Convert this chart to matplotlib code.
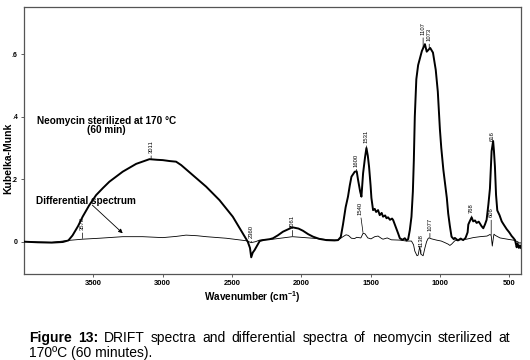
import numpy as np
import matplotlib
matplotlib.use("Agg")
import matplotlib.pyplot as plt

# ---------------- data ----------------
main_wn = [4000, 3900, 3800, 3720, 3680, 3650, 3610, 3577, 3529, 3480, 3430, 3384, 3288, 3191,
           3095, 3040, 2999, 2950, 2903, 2866, 2782, 2686, 2590, 2494, 2422, 2386, 2370, 2361,
           2350, 2337, 2300, 2277, 2228, 2204, 2170, 2132, 2064, 2020, 1988, 1950, 1915, 1870,
           1819, 1760, 1735, 1715, 1699, 1680, 1663, 1650, 1638, 1614, 1600, 1590, 1575, 1566,
           1554, 1540, 1530, 1520, 1511, 1500, 1494, 1482, 1470, 1460, 1446, 1434, 1420, 1410,
           1395, 1385, 1374, 1360, 1345, 1337, 1325, 1313, 1300, 1289, 1270, 1253, 1241, 1229,
           1217, 1205, 1195, 1188, 1181, 1170, 1157, 1145, 1130, 1108, 1095, 1070, 1050, 1030,
           1015, 1000, 990, 975, 964, 950, 940, 928, 916, 900, 892, 870, 850, 832, 815, 800,
           795, 785, 771, 760, 747, 735, 720, 711, 700, 687, 675, 663, 650, 639, 627, 616,
           610, 603, 595, 586, 570, 554, 540, 518, 500, 482, 470, 458, 450, 446, 440, 430,
           422, 415]
main_val = [0.0, -0.002, -0.003, -0.001, 0.004, 0.02, 0.05, 0.08, 0.117, 0.149, 0.172, 0.192, 0.224, 0.249,
            0.264, 0.262, 0.261, 0.258, 0.256, 0.245, 0.213, 0.176, 0.133, 0.080, 0.027, 0.0, -0.02, -0.05,
            -0.035, -0.027, 0.002, 0.005, 0.008, 0.011, 0.02, 0.032, 0.046, 0.042, 0.035, 0.024, 0.016, 0.009,
            0.005, 0.004, 0.005, 0.015, 0.055, 0.11, 0.144, 0.18, 0.208, 0.224, 0.225, 0.197, 0.16, 0.144,
            0.219, 0.27, 0.30, 0.275, 0.24, 0.18, 0.14, 0.101, 0.105, 0.095, 0.101, 0.085, 0.092, 0.08,
            0.084, 0.075, 0.078, 0.07, 0.074, 0.069, 0.055, 0.04, 0.025, 0.011, 0.006, 0.011, 0.004, 0.008,
            0.037, 0.08, 0.16, 0.26, 0.40, 0.52, 0.565, 0.585, 0.61, 0.632, 0.608, 0.62, 0.605, 0.55,
            0.48, 0.36, 0.30, 0.23, 0.19, 0.14, 0.09, 0.05, 0.016, 0.008, 0.012, 0.004, 0.01, 0.005, 0.012, 0.03,
            0.055, 0.065, 0.078, 0.065, 0.068, 0.06, 0.064, 0.058, 0.05, 0.043, 0.055, 0.07, 0.12, 0.17, 0.29, 0.322,
            0.29, 0.24, 0.15, 0.10, 0.085, 0.065, 0.055, 0.04, 0.03, 0.018, 0.012, 0.005, -0.01, -0.018, -0.005, -0.02,
            -0.012, -0.02]

diff_wn = [4000, 3800, 3680, 3578, 3457, 3288, 3144, 2999, 2900, 2831, 2750, 2686, 2541, 2397,
           2361, 2330, 2301, 2204, 2064, 1915, 1800, 1735, 1699, 1677, 1660, 1638, 1615, 1600,
           1570, 1554, 1540, 1520, 1497, 1470, 1446, 1420, 1410, 1380, 1350, 1289, 1240, 1205,
           1190, 1181, 1165, 1157, 1145, 1137, 1121, 1108, 1096, 1084, 1077, 1060, 1024, 990,
           964, 940, 928, 916, 892, 850, 807, 760, 711, 660, 639, 630, 622, 615, 610, 600,
           566, 500, 470, 440, 422, 415]
diff_val = [0.0, -0.002, 0.004, 0.008, 0.011, 0.016, 0.016, 0.013, 0.017, 0.021, 0.019, 0.016, 0.011, 0.003,
            -0.003, 0.0, 0.005, 0.008, 0.016, 0.011, 0.006, 0.005, 0.016, 0.022, 0.02, 0.011, 0.01, 0.014,
            0.012, 0.027, 0.025, 0.012, 0.009, 0.016, 0.018, 0.01, 0.008, 0.012, 0.006, 0.005, 0.002, 0.002,
            -0.01, -0.03, -0.045, -0.043, -0.015, -0.04, -0.045, -0.02, 0.0, 0.011, 0.012, 0.009, 0.005, 0.002,
            -0.003, -0.008, -0.012, -0.008, 0.003, 0.006, 0.008, 0.013, 0.016, 0.018, 0.023, 0.02, -0.014, 0.01, 0.024, 0.02,
            0.012, 0.007, 0.005, 0.0, -0.005, -0.003]

# peak labels: (text, wavenumber where placed, which curve)
main_peak_labels = ["3011", "1600", "1531", "1107", "1073", "768", "616"]
main_peak_wn = [3083, 1602, 1530, 1121, 1077, 771, 620]
diff_peak_labels = ["3578", "2360", "2061", "1138", "1077", "606"]
diff_peak_wn = [3578, 2361, 2064, 1137, 1072, 630]

x_ticks = [3500, 3000, 2500, 2000, 1500, 1000, 500]
y_ticks = [0, 0.2, 0.4, 0.6]
y_tick_labels = ["0", ".2", ".4", ".6"]

# ---------------- figure ----------------
narrow = ["Liberation Sans Narrow", "Liberation Sans", "DejaVu Sans"]
plt.rcParams["font.family"] = narrow

fig = plt.figure(figsize=(5.3, 3.6), dpi=100)
ax = fig.add_axes([0.0453, 0.2389, 0.9377, 0.7417])

ax.plot(diff_wn, diff_val, color="black", lw=0.6, zorder=2)
ax.plot(main_wn, main_val, color="black", lw=1.4, zorder=3)

ax.set_xlim(4000, 415)
ax.set_ylim(-0.1034, 0.751)
ax.set_xticks(x_ticks)
ax.set_xticklabels([str(t) for t in x_ticks], fontsize=5.5, fontweight="bold")
ax.set_yticks(y_ticks)
ax.set_yticklabels(y_tick_labels, fontsize=5, fontweight="bold")
ax.tick_params(axis="both", direction="out", length=2.5, width=0.6, pad=2, color="#444444")
for s in ax.spines.values():
    s.set_color("#555555")
    s.set_linewidth(0.9)

def label_peak(wn, val, txt, gap):
    ax.annotate(txt, xy=(wn, val), xytext=(0, gap), textcoords="offset points",
                rotation=90, ha="center", va="bottom", fontsize=4.2,
                arrowprops=dict(arrowstyle="-", lw=0.5, color="black", shrinkA=0, shrinkB=0.5))

main_gaps = [4.5, 3.5, 3.5, 9.5, 5.5, 3.0, 2.5]
diff_gaps = [6.5, 3.0, 6.5, 5.0, 5.5, 13.0]
for t, w, g in zip(main_peak_labels, main_peak_wn, main_gaps):
    label_peak(w, np.interp(w, main_wn[::-1], main_val[::-1]), t, g)
for t, w, g in zip(diff_peak_labels, diff_peak_wn, diff_gaps):
    label_peak(w, np.interp(w, diff_wn[::-1], diff_val[::-1]), t, g)

# "1540" with slanted leader
ax.annotate("1540", xy=(1554, 0.027), xytext=(1578, 0.085),
            rotation=90, ha="center", va="bottom", fontsize=4.2,
            arrowprops=dict(arrowstyle="-", lw=0.5, color="black", shrinkA=0, shrinkB=0.5))

# in-plot texts
ax.text(3405, 0.386, "Neomycin sterilized at 170 \u00b0C", ha="center", va="center",
        fontsize=7.2, fontweight="bold")
ax.text(3405, 0.357, "(60 min)", ha="center", va="center", fontsize=7.2, fontweight="bold")
ax.text(3551, 0.130, "Differential spectrum", ha="center", va="center",
        fontsize=7.2, fontweight="bold")
ax.annotate("", xy=(3288, 0.027), xytext=(3507, 0.117),
            arrowprops=dict(arrowstyle="-|>", lw=0.6, color="black",
                            mutation_scale=6, shrinkA=0, shrinkB=0))

# axis labels
fig.text(8 / 530, 1 - 158 / 360, "Kubelka-Munk", rotation=90, ha="center", va="center",
         fontsize=7.5, fontweight="bold")
fig.text(252 / 530, 1 - 297 / 360, r"Wavenumber (cm$^{\mathregular{-1}}$)", ha="center", va="center",
         fontsize=7.2, fontweight="bold")

# caption (first line justified between x=29 and x=510 px)
cap_family = ["Liberation Sans", "DejaVu Sans"]
cap_size = 10.0
line1_words = [("Figure", "bold"), ("13:", "bold"), ("DRIFT", "normal"), ("spectra", "normal"),
               ("and", "normal"), ("differential", "normal"), ("spectra", "normal"), ("of", "normal"),
               ("neomycin", "normal"), ("sterilized", "normal"), ("at", "normal")]
renderer = fig.canvas.get_renderer()
y1 = 1 - 338 / 360
objs = []
for w, fw in line1_words:
    t = fig.text(0, y1, w, ha="left", va="center", fontsize=cap_size, fontweight=fw, family=cap_family)
    objs.append(t)
widths = [o.get_window_extent(renderer=renderer).width for o in objs]
x0, x1 = 29.0, 510.0
gap = (x1 - x0 - sum(widths)) / (len(objs) - 1)
xc = x0
for o, wdt in zip(objs, widths):
    o.set_x(xc / 530)
    xc += wdt + gap
fig.text(29 / 530, 1 - 353 / 360, "170\u00baC (60 minutes).", ha="left", va="center",
         fontsize=cap_size, family=cap_family)

fig.savefig("out.png", dpi=100)
